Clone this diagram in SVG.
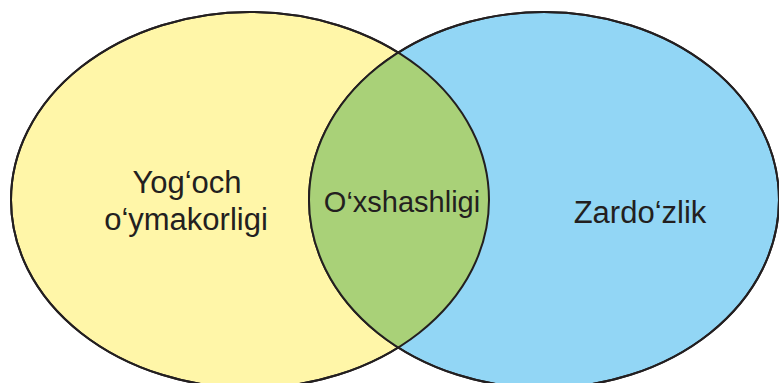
<svg xmlns="http://www.w3.org/2000/svg" width="779" height="383" viewBox="0 0 779 383">
<style>
.shape{stroke:#231f20;stroke-width:2}
.lbl{font-family:"Liberation Sans",Arial,sans-serif;fill:#231f20;text-anchor:middle}
</style>
<defs>
<clipPath id="clipLeft"><ellipse cx="250" cy="200" rx="239" ry="188"/></clipPath>
</defs>
<rect width="779" height="383" fill="#ffffff"/>
<g id="left">
<ellipse class="shape" cx="250" cy="200" rx="239" ry="188" fill="#fff6a8"/>
</g>
<g id="right">
<ellipse class="shape" cx="544" cy="200" rx="235" ry="188" fill="#92d6f5"/>
</g>
<g id="overlap">
<ellipse cx="544" cy="200" rx="235" ry="188" fill="#a9d178" clip-path="url(#clipLeft)"/>
<ellipse cx="250" cy="200" rx="239" ry="188" fill="none" stroke="#231f20" stroke-width="2"/>
<ellipse cx="544" cy="200" rx="235" ry="188" fill="none" stroke="#231f20" stroke-width="2"/>
</g>
<g id="labels">
<text class="lbl" x="187" y="193" font-size="31">Yog‘och</text>
<text class="lbl" x="186" y="230" font-size="31">o‘ymakorligi</text>
<text class="lbl" x="402" y="212" font-size="29">O‘xshashligi</text>
<text class="lbl" x="640" y="223" font-size="31">Zardo‘zlik</text>
</g>
<g id="connectors"/>
</svg>
